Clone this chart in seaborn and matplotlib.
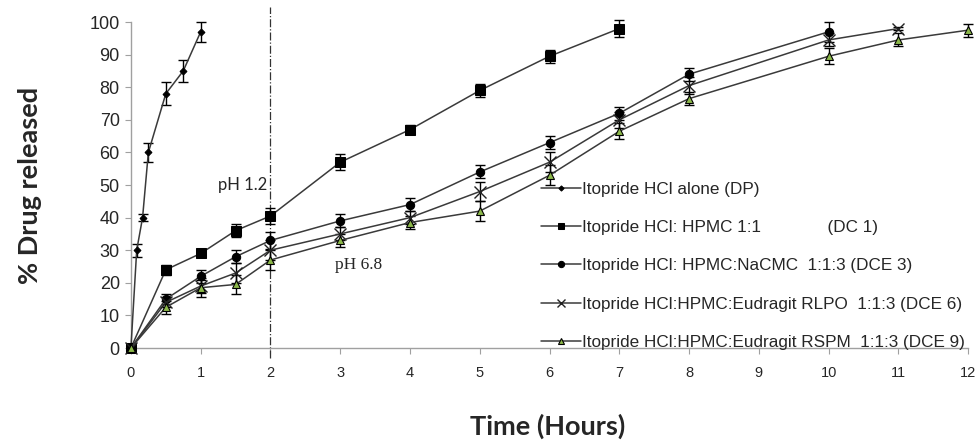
import numpy as np
import matplotlib
matplotlib.use("Agg")
import matplotlib.pyplot as plt
import seaborn as sns
import pandas as pd

# data (time in hours, % drug released, error)
t_dp = [0, 0.083, 0.167, 0.25, 0.5, 0.75, 1]
y_dp = [0, 30, 40, 60, 78, 85, 97]
e_dp = [0, 2, 1, 3, 3.5, 3.5, 3]

t_dc1 = [0, 0.5, 1, 1.5, 2, 3, 4, 5, 6, 7]
y_dc1 = [0, 24, 29, 36, 40.5, 57, 67, 79, 89.5, 98]
e_dc1 = [0, 1.5, 1, 2, 2.5, 2.5, 1.5, 2, 2, 2.5]

t_dce3 = [0, 0.5, 1, 1.5, 2, 3, 4, 5, 6, 7, 8, 10]
y_dce3 = [0, 15, 22, 28, 33, 39, 44, 54, 63, 72, 84, 97]
e_dce3 = [0, 1.5, 2, 2, 2.5, 2, 2, 2, 2, 2, 2, 3]

t_dce6 = [0, 0.5, 1, 1.5, 2, 3, 4, 5, 6, 7, 8, 10, 11]
y_dce6 = [0, 14, 19, 23, 30, 35, 40, 48, 57, 70, 80.5, 94.5, 98]
e_dce6 = [0, 1.5, 2, 3, 3, 2, 2, 3, 3, 2.5, 2.5, 2, 0.5]

t_dce9 = [0, 0.5, 1, 1.5, 2, 3, 4, 5, 6, 7, 8, 10, 11, 12]
y_dce9 = [0, 12.5, 18.5, 19.5, 27, 33, 38.5, 42, 53, 66.5, 76.5, 89.5, 94.5, 97.5]
e_dce9 = [0, 2, 3, 3, 3, 2, 2, 3, 3, 2.5, 2, 2.5, 2, 2]

labels = ["Itopride HCl alone (DP)",
          "Itopride HCl: HPMC 1:1              (DC 1)",
          "Itopride HCl: HPMC:NaCMC  1:1:3 (DCE 3)",
          "Itopride HCl:HPMC:Eudragit RLPO  1:1:3 (DCE 6)",
          "Itopride HCl:HPMC:Eudragit RSPM  1:1:3 (DCE 9)"]

sns.set_style("white")
plt.rcParams['font.family'] = ['Liberation Sans', 'DejaVu Sans']

fig = plt.figure(figsize=(9.77, 4.43), dpi=100)
ax = fig.add_axes([0.134, 0.2144, 0.857, 0.7359])

series = [
    (t_dp, y_dp, e_dp, dict(marker="D", markersize=3.5, markerfacecolor="black", markeredgecolor="black")),
    (t_dc1, y_dc1, e_dc1, dict(marker="s", markersize=6.5, markerfacecolor="black", markeredgecolor="black")),
    (t_dce3, y_dce3, e_dce3, dict(marker="o", markersize=6, markerfacecolor="black", markeredgecolor="black")),
    (t_dce6, y_dce6, e_dce6, dict(marker="x", markersize=8, markeredgecolor="#222222", markeredgewidth=1)),
    (t_dce9, y_dce9, e_dce9, dict(marker="^", markersize=5.5, markerfacecolor="#8cb84a", markeredgecolor="black", markeredgewidth=0.8)),
]

for (t, y, e, mk), lab in zip(series, labels):
    df = pd.DataFrame({"t": t, "y": y})
    sns.lineplot(data=df, x="t", y="y", ax=ax, color="#3a3a3a", linewidth=1.1,
                 label=lab, clip_on=False, zorder=3, **mk)
    ax.errorbar(t, y, yerr=e, fmt="none", ecolor="black", elinewidth=1,
                capsize=3.5, capthick=1, zorder=2, clip_on=False)

ax.set_xlim(0, 12)
ax.set_ylim(0, 100)
ax.set_xticks(range(0, 13))
ax.set_yticks(range(0, 101, 10))
ax.set_xlabel("")
ax.set_ylabel("")
for s in ["top", "right"]:
    ax.spines[s].set_visible(False)
for s in ["left", "bottom"]:
    ax.spines[s].set_color("#a0a0a0")
    ax.spines[s].set_linewidth(1)
ax.tick_params(axis="x", direction="out", length=4, color="#a0a0a0", pad=9, labelsize=10.5, bottom=True)
ax.tick_params(axis="y", direction="out", length=4, color="#a0a0a0", pad=4, labelsize=13, left=True)

# pH boundary line
ax.plot([2, 2], [-3, 104.5], color="#333333", linestyle="-.", linewidth=0.9, clip_on=False, zorder=1)

ax.text(1.25, 50, "pH 1.2", fontsize=12, va="center", family=["Lato", "DejaVu Sans"])
ax.text(2.92, 25.5, "pH 6.8", fontsize=12.5, va="center", family=["Liberation Serif", "DejaVu Serif"])

fig.text(0.031, 0.582, "% Drug released", rotation=90, fontsize=19.5, fontweight="bold",
         ha="center", va="center", family=["Lato", "DejaVu Sans"])
fig.text(0.561, 0.008, "Time (Hours)", fontsize=19.5, fontweight="bold",
         ha="center", va="bottom", family=["Lato", "DejaVu Sans"])

leg = ax.legend(loc="upper left", bbox_to_anchor=(0.547, 0.605), bbox_transform=fig.transFigure,
                frameon=False, fontsize=12.3, handlelength=2.3, handletextpad=0.1,
                labelspacing=1.36, borderaxespad=0, markerscale=0.75)

fig.savefig("out.png", dpi=100)
